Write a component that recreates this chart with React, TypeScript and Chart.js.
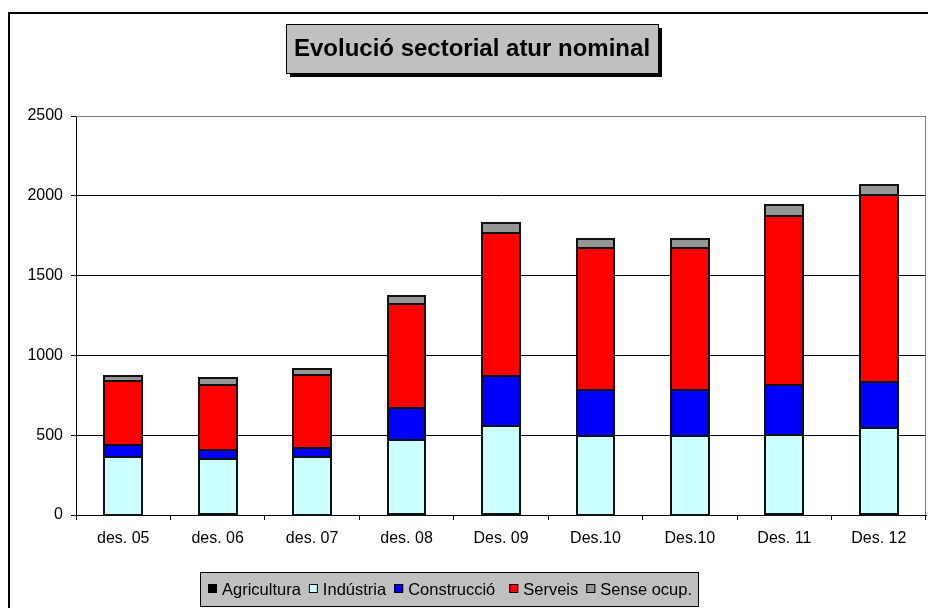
import React, { useEffect, useRef } from "react";
import { Chart, registerables } from "chart.js";

Chart.register(...registerables);

const categories = ["des. 05", "des. 06", "des. 07", "des. 08", "Des. 09", "Des.10", "Des.10", "Des. 11", "Des. 12"];
const agricultura = [3, 8, 3, 8, 8, 3, 3, 8, 8];
const industria = [359, 342, 362, 459, 552, 493, 493, 496, 538];
const construccio = [76, 60, 56, 202, 309, 285, 285, 308, 287];
const serveis = [401, 407, 454, 656, 900, 890, 890, 1061, 1173];
const senseOcup = [32, 43, 42, 50, 58, 60, 60, 69, 59];

const seriesNames = ["Agricultura", "Indústria", "Construcció", "Serveis", "Sense ocup."];
const seriesColors = ["#000000", "#CCFFFF", "#0000FF", "#FF0000", "#969696"];
const titleText = "Evolució sectorial atur nominal";

const FONT = "'Liberation Sans', Arial, Helvetica, sans-serif";

const decorPlugin = {
  id: "decor",
  beforeDraw(chart: any) {
    const ctx = chart.ctx;
    ctx.save();
    ctx.fillStyle = "#ffffff";
    ctx.fillRect(0, 0, chart.width, chart.height);
    ctx.strokeStyle = "#000000";
    ctx.lineWidth = 2;
    ctx.strokeRect(9, 13, 960, 640);
    ctx.restore();
  },
  afterDatasetsDraw(chart: any) {
    // crisp dark outline around each bar segment
    const ctx = chart.ctx;
    ctx.save();
    ctx.strokeStyle = "#111111";
    ctx.lineWidth = 2;
    chart.data.datasets.forEach((_ds: any, di: number) => {
      const meta = chart.getDatasetMeta(di);
      meta.data.forEach((bar: any) => {
        const half = bar.width / 2;
        const l = Math.round(bar.x - half);
        const r = Math.round(bar.x + half);
        const t = Math.round(Math.min(bar.y, bar.base));
        const b = Math.round(Math.max(bar.y, bar.base));
        ctx.strokeRect(l, t, r - l, b - t);
      });
    });
    ctx.restore();
  },
  afterDraw(chart: any) {
    const ctx = chart.ctx;
    const a = chart.chartArea;
    ctx.save();
    // plot area border (top / right) in grey
    ctx.strokeStyle = "#808080";
    ctx.lineWidth = 1;
    ctx.beginPath();
    ctx.moveTo(a.left, Math.round(a.top) + 0.5);
    ctx.lineTo(Math.round(a.right) - 0.5, Math.round(a.top) + 0.5);
    ctx.lineTo(Math.round(a.right) - 0.5, a.bottom);
    ctx.stroke();

    // title box with shadow
    const tx = 286, ty = 24, tw = 372, th = 49;
    ctx.fillStyle = "#000000";
    ctx.fillRect(tx + 4, ty + 4, tw, th);
    ctx.fillStyle = "#C0C0C0";
    ctx.fillRect(tx, ty, tw, th);
    ctx.strokeStyle = "#000000";
    ctx.lineWidth = 1;
    ctx.strokeRect(tx + 0.5, ty + 0.5, tw, th);
    ctx.fillStyle = "#000000";
    ctx.font = `bold 24px ${FONT}`;
    ctx.textAlign = "center";
    ctx.textBaseline = "middle";
    ctx.fillText(titleText, tx + tw / 2, ty + th / 2 + 1);

    // legend box
    const lx = 200, ly = 572, lw = 498, lh = 34;
    ctx.fillStyle = "#C0C0C0";
    ctx.fillRect(lx, ly, lw, lh);
    ctx.strokeStyle = "#000000";
    ctx.strokeRect(lx + 0.5, ly + 0.5, lw, lh);
    ctx.font = `16.5px ${FONT}`;
    ctx.textAlign = "left";
    ctx.textBaseline = "middle";
    let x = 208;
    const cy = 589;
    chart.data.datasets.forEach((ds: any, i: number) => {
      ctx.fillStyle = ds.backgroundColor;
      ctx.fillRect(x, cy - 5, 9, 9);
      ctx.strokeStyle = "#000000";
      ctx.strokeRect(x + 0.5, cy - 4.5, 8, 8);
      ctx.fillStyle = "#000000";
      ctx.fillText(ds.label, x + 14, cy + 1);
      const w = ctx.measureText(ds.label).width;
      x += 14 + w + (i === 2 ? 14 : 8);
    });
    ctx.restore();
  },
};

export default function App() {
  const ref = useRef<HTMLCanvasElement | null>(null);
  useEffect(() => {
    if (!ref.current) return;
    const seriesData = [agricultura, industria, construccio, serveis, senseOcup];
    const chart = new Chart(ref.current, {
      type: "bar",
      data: {
        labels: categories,
        datasets: seriesData.map((d, i) => ({
          label: seriesNames[i],
          data: d,
          backgroundColor: seriesColors[i],
          borderWidth: 0,
          inflateAmount: 0,
          barPercentage: 0.4,
          categoryPercentage: 1.0,
        })),
      },
      options: {
        responsive: false,
        animation: false,
        devicePixelRatio: 1,
        layout: { padding: { left: 0, top: 116, right: 2, bottom: 0 } },
        plugins: {
          legend: { display: false },
          title: { display: false },
          tooltip: { enabled: false },
        },
        scales: {
          x: {
            stacked: true,
            grid: { display: true, drawOnChartArea: false, drawTicks: true, tickLength: 5, color: "#000000", offset: true },
            border: { color: "#000000", width: 1 },
            ticks: { color: "#000000", font: { family: FONT, size: 16 }, padding: 9, maxRotation: 0, autoSkip: false },
            afterFit: (s: any) => { s.height = 93; },
          },
          y: {
            stacked: true,
            min: 0,
            max: 2500,
            ticks: {
              stepSize: 500,
              color: "#000000",
              font: { family: FONT, size: 16 },
              padding: 8,
              callback: (v: any) => String(v),
            },
            grid: { color: "#000000", tickLength: 5 },
            border: { color: "#000000", width: 1 },
            afterFit: (s: any) => { s.width = 76; },
          },
        },
      },
      plugins: [decorPlugin],
    });
    return () => chart.destroy();
  }, []);
  return (
    <div style={{ position: "absolute", left: 0, top: 0, width: 928, height: 608 }}>
      <canvas ref={ref} width={928} height={608} style={{ display: "block" }} />
    </div>
  );
}
